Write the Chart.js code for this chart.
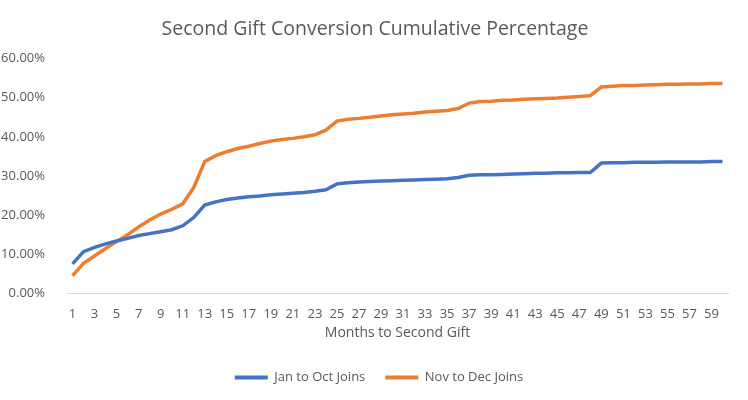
<!DOCTYPE html>
<html>
<head>
<meta charset="utf-8">
<script src="https://cdn.jsdelivr.net/npm/chart.js@4"></script>
<style>
  html, body { margin: 0; padding: 0; background: #fff; }
  #wrap { width: 748px; height: 400px; }
</style>
</head>
<body>
<div id="wrap"><canvas id="giftChart" width="748" height="400"></canvas></div>
<script>
// months 1..60
const months = Array.from({ length: 60 }, (_, i) => String(i + 1));

const janToOct = [
    7.6, 10.7, 11.8, 12.7, 13.4, 14.1, 14.8, 15.3, 15.8, 16.3,
    17.3, 19.4, 22.6, 23.4, 24.0, 24.4, 24.7, 24.9, 25.2, 25.4,
    25.6, 25.8, 26.1, 26.5, 28.0, 28.3, 28.5, 28.6, 28.7, 28.8,
    28.9, 29.0, 29.1, 29.2, 29.3, 29.6, 30.2, 30.3, 30.3, 30.4,
    30.5, 30.6, 30.7, 30.7, 30.8, 30.8, 30.9, 30.9, 33.3, 33.4,
    33.4, 33.5, 33.5, 33.5, 33.6, 33.6, 33.6, 33.6, 33.7, 33.7
];

const novToDec = [
    4.6, 7.7, 9.6, 11.5, 13.3, 15.0, 17.0, 18.8, 20.3, 21.5,
    22.9, 27.0, 33.7, 35.2, 36.2, 37.0, 37.6, 38.3, 38.9, 39.3,
    39.6, 40.0, 40.5, 41.7, 44.0, 44.5, 44.7, 45.0, 45.3, 45.6,
    45.8, 46.0, 46.3, 46.5, 46.7, 47.2, 48.6, 49.0, 49.1, 49.3,
    49.4, 49.6, 49.7, 49.8, 49.9, 50.1, 50.3, 50.5, 52.7, 52.9,
    53.1, 53.1, 53.2, 53.3, 53.4, 53.4, 53.5, 53.5, 53.6, 53.6
];

const yTicks = [0, 10, 20, 30, 40, 50, 60];

const FONT = "'Open Sans', 'Noto Sans', sans-serif";
const GREY = '#595959';

// nudge title and legend so they sit centred on the page like the original
const centreShift = {
    id: 'centreShift',
    afterLayout(chart) {
        if (chart.titleBlock) {
            chart.titleBlock.left += 11;
            chart.titleBlock.right += 11;
        }
        if (chart.legend) {
            chart.legend.left += 15;
            chart.legend.right += 15;
        }
    }
};

new Chart(document.getElementById('giftChart'), {
    type: 'line',
    data: {
        labels: months,
        datasets: [
            {
                label: 'Jan to Oct Joins',
                data: janToOct,
                borderColor: '#4472C4',
                backgroundColor: '#4472C4',
                borderWidth: 3.5,
                pointRadius: 0,
                tension: 0
            },
            {
                label: 'Nov to Dec Joins',
                data: novToDec,
                borderColor: '#ED7D31',
                backgroundColor: '#ED7D31',
                borderWidth: 3.5,
                pointRadius: 0,
                tension: 0
            }
        ]
    },
    plugins: [centreShift],
    options: {
        responsive: false,
        animation: false,
        layout: { padding: { left: 0, right: 20, top: 8, bottom: 6 } },
        scales: {
            x: {
                offset: true,
                grid: { display: false },
                border: { color: '#D9D9D9', width: 1 },
                ticks: {
                    color: GREY,
                    font: { family: FONT, size: 13 },
                    autoSkip: false,
                    maxRotation: 0,
                    padding: 5,
                    callback: function (v, i) { return i % 2 === 0 ? months[i] : ''; }
                },
                title: {
                    display: true,
                    text: 'Months to Second Gift',
                    color: GREY,
                    font: { family: FONT, size: 14 },
                    padding: { top: -3, bottom: 10 }
                }
            },
            y: {
                min: 0,
                max: 60,
                grid: { display: false },
                border: { display: false },
                afterFit: function (axis) { axis.width = 67; },
                afterBuildTicks: function (axis) {
                    axis.ticks = yTicks.map(v => ({ value: v }));
                },
                ticks: {
                    color: GREY,
                    font: { family: FONT, size: 13 },
                    padding: 14,
                    callback: function (v) { return v.toFixed(2) + '%'; }
                }
            }
        },
        plugins: {
            title: {
                display: true,
                text: 'Second Gift Conversion Cumulative Percentage',
                color: GREY,
                font: { family: FONT, size: 19.5, weight: 'normal' },
                padding: { top: 10, bottom: 17 }
            },
            legend: {
                position: 'bottom',
                labels: {
                    color: GREY,
                    font: { family: FONT, size: 13 },
                    boxWidth: 33,
                    boxHeight: 4,
                    padding: 20,
                    generateLabels: function (chart) {
                        return chart.data.datasets.map((ds, i) => ({
                            text: ds.label,
                            fillStyle: ds.borderColor,
                            strokeStyle: ds.borderColor,
                            lineWidth: 0,
                            fontColor: GREY,
                            datasetIndex: i
                        }));
                    }
                }
            },
            tooltip: { enabled: false }
        }
    }
});
</script>
</body>
</html>
